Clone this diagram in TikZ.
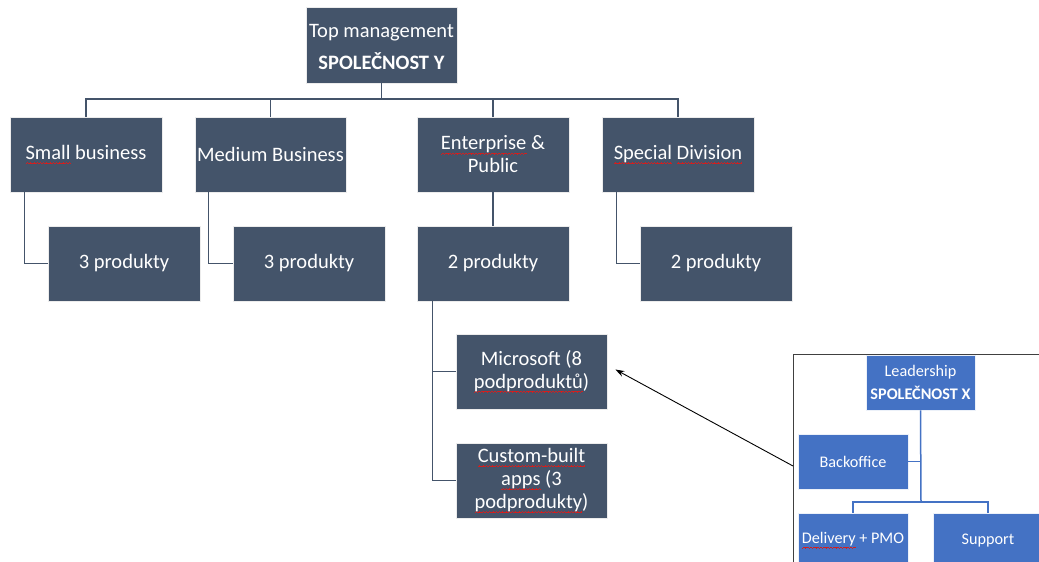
\documentclass[tikz,border=0pt]{standalone}
\usepackage{fontspec}
\setmainfont{Carlito}
\usetikzlibrary{arrows.meta}
\definecolor{slate}{HTML}{44546A}
\definecolor{officeblue}{HTML}{4472C4}
\definecolor{framegray}{HTML}{404040}
\definecolor{squig}{HTML}{D02020}
\newsavebox\sqbox
\newcommand\wavebit{\hbox{\rule[-4.4pt]{0.8pt}{0.6pt}\rule[-3.8pt]{0.8pt}{0.6pt}\rule[-3.2pt]{0.8pt}{0.6pt}\rule[-3.8pt]{0.8pt}{0.6pt}}}
\newcommand\sq[1]{\leavevmode\sbox\sqbox{#1}\rlap{\textcolor{squig}{\hbox to\wd\sqbox{\xleaders\wavebit\hfil}}}\usebox\sqbox}
\begin{document}
\begin{tikzpicture}[x=1pt,y=-1pt,
  dbox/.style={fill=slate,draw=white!85!gray,line width=0.8pt,text=white,inner sep=0pt,
    minimum width=151pt,minimum height=75pt,align=center,
    font=\fontsize{20.5}{23}\selectfont},
  bbox/.style={fill=officeblue,draw=white!90!officeblue,line width=0.6pt,text=white,inner sep=0pt,
    minimum width=110pt,minimum height=55pt,align=center,
    font=\fontsize{16.2}{20}\selectfont},
  dline/.style={draw=slate,line width=1.5pt},
  bline/.style={draw=officeblue,line width=1.5pt}]
\useasboundingbox (0,0) rectangle (1039,562);
\clip (0,0) rectangle (1039,562);
\fill[white] (0,0) rectangle (1039,562);
% main tree
\node[dbox,minimum height=76pt] (top) at (381.5,45) {};
\node[text=white,font=\fontsize{20.5}{23}\selectfont,align=center,inner sep=0pt] (toptxt) at (381.5,47) {Top management\\[9pt]\textbf{SPOLEČNOST Y}};
\node[dbox,minimum width=152pt] (sb) at (86,154.5) {\sq{Small} business};
\node[dbox] (mb) at (270.5,154.5) {Medium Business};
\node[dbox,minimum width=152pt] (ep) at (493,154.5) {\sq{Enterprise} \&\\Public};
\node[dbox,minimum width=152pt] (sd) at (678,154.5) {\sq{Special} \sq{Division}};
\node[dbox,minimum width=152pt] (p1) at (124,263.5) {3 produkty};
\node[dbox,minimum width=152pt] (p2) at (309,263.5) {3 produkty};
\node[dbox,minimum width=152pt] (p3) at (493,263.5) {2 produkty};
\node[dbox,minimum width=152pt] (p4) at (716,263.5) {2 produkty};
\node[dbox] (ms) at (531.5,371.5) {Microsoft (8\\\sq{podproduktů})};
\node[dbox] (cb) at (531.5,480.5) {\sq{Custom-built}\\\sq{apps} (3\\\sq{podprodukty})};
\coordinate (bar) at (381.5,99);
\draw[dline] (top.south) -- (bar);
\draw[dline] (sb.north) |- (bar) -| (sd.north);
\draw[dline] (mb.north) -- (mb.north |- bar);
\draw[dline] (ep.north) -- (ep.north |- bar);
\draw[dline] ([xshift=15pt]sb.south west) |- (p1.west);
\draw[dline] ([xshift=14pt]mb.south west) |- (p2.west);
\draw[dline] ([xshift=15pt]sd.south west) |- (p4.west);
\draw[dline] (ep.south) -- (p3.north);
\draw[dline] ([xshift=16pt]p3.south west) |- (ms.west);
\draw[dline] ([xshift=16pt]p3.south west) |- (cb.west);
% inset panel
\node[draw=framegray,line width=1pt,minimum width=260pt,minimum height=230pt,inner sep=0pt,anchor=north west] (frame) at (793,354) {};
\coordinate (fin) at (793,466);
\node[bbox,minimum width=109pt] (lead) at (920.5,382.5) {Leadership\\[3pt]\textbf{SPOLEČNOST X}};
\node[bbox] (bo) at (853,461.5) {Backoffice};
\node[bbox] (dp) at (853,540.5) {\sq{Delivery} + PMO};
\node[bbox] (sp) at (988,540.5) {Support};
\coordinate (bar2) at (921,502);
\draw[bline] (lead.south) -- (bar2);
\draw[bline] (bo.east) -- (bo.east -| bar2);
\draw[bline] (dp.north) |- (bar2) -| (sp.north);
\draw[black,line width=0.9pt,-{Stealth[length=9pt,width=6pt]}] (fin) -- ([xshift=8pt,yshift=2pt]ms.east);
\end{tikzpicture}
\end{document}
